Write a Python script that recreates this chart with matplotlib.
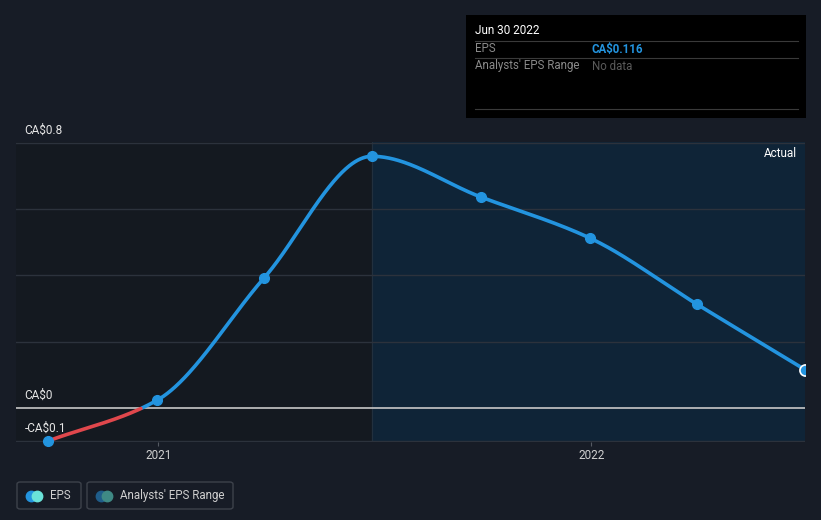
import matplotlib.pyplot as plt
import matplotlib.dates as mdates
from matplotlib.patches import FancyBboxPatch, Rectangle
import numpy as np

plt.rcParams["font.family"] = ["Roboto", "DejaVu Sans"]

# data
dates = ["2020-09-30", "2020-12-31", "2021-03-31", "2021-06-30",
         "2021-09-30", "2021-12-31", "2022-03-31", "2022-06-30"]
eps = [-0.099, 0.024, 0.392, 0.759, 0.636, 0.512, 0.313, 0.116]
y_ticks = [-0.1, 0, 0.8]
y_tick_labels = ["-CA$0.1", "CA$0", "CA$0.8"]
grid_levels = [-0.1, 0.2, 0.4, 0.6, 0.8]
x_ticks = ["2021-01-01", "2022-01-01"]
x_tick_labels = ["2021", "2022"]
forecast_start = "2021-06-30"

bg = "#171c26"
blue = "#2394df"
red = "#e0474c"

W, H = 821, 520
fig = plt.figure(figsize=(W / 100, H / 100), dpi=100)
fig.patch.set_facecolor(bg)


def fx(px):
    return px / W


def fy(py):
    return 1 - py / H


ax = fig.add_axes([fx(16), fy(442), fx(805) - fx(16), fy(142) - fy(442)])
ax.set_facecolor("#141920")

x = mdates.datestr2num(dates)
y = np.array(eps)


# monotone cubic (Fritsch-Carlson) for the smooth line
def pchip(xk, yk, xs):
    h = np.diff(xk)
    d = np.diff(yk) / h
    m = np.zeros_like(yk)
    m[0], m[-1] = d[0], d[-1]
    for i in range(1, len(xk) - 1):
        if d[i - 1] * d[i] > 0:
            w1 = 2 * h[i] + h[i - 1]
            w2 = h[i] + 2 * h[i - 1]
            m[i] = (w1 + w2) / (w1 / d[i - 1] + w2 / d[i])
    out = np.empty_like(xs)
    for j, xv in enumerate(xs):
        i = max(min(np.searchsorted(xk, xv) - 1, len(xk) - 2), 0)
        t = (xv - xk[i]) / h[i]
        h00 = 2 * t**3 - 3 * t**2 + 1
        h10 = t**3 - 2 * t**2 + t
        h01 = -2 * t**3 + 3 * t**2
        h11 = t**3 - t**2
        out[j] = h00 * yk[i] + h10 * h[i] * m[i] + h01 * yk[i + 1] + h11 * h[i] * m[i + 1]
    return out


xs = np.linspace(x[0], x[-1], 800)
ys = pchip(x, y, xs)

x0 = mdates.datestr2num("2020-09-03")
x1 = x[-1]
ax.set_xlim(x0, x1)
ax.set_ylim(-0.102, 0.802)

fs = mdates.datestr2num(forecast_start)
ax.axvspan(fs, x1, color="#0f2437", zorder=0)
ax.axvline(fs, color="#22303e", lw=0.8, zorder=1)

for g in grid_levels:
    ax.axhline(g, color="#2c323c", lw=1, zorder=1)
ax.axhline(0, color="#c8c8c8", lw=1.2, zorder=2)

ax.plot(xs, np.where(ys >= 0, ys, np.nan), color=blue, lw=2.6, zorder=3, solid_capstyle="round")
ax.plot(xs, np.where(ys <= 0, ys, np.nan), color=red, lw=2.6, zorder=3, solid_capstyle="round")
ax.plot(x[:-1], y[:-1], "o", color=blue, ms=7, zorder=4, clip_on=False)
ax.plot(x[-1:], y[-1:], "o", color=blue, ms=8, mec="white", mew=1.2, zorder=4)

for s in ax.spines.values():
    s.set_visible(False)
ax.set_yticks([])
ax.set_xticks(mdates.datestr2num(x_ticks))
ax.set_xticklabels(x_tick_labels, color="#d0d0d0", fontsize=8.5)
ax.tick_params(axis="x", length=3, color="#555a63", pad=2)

for v, lab in zip(y_ticks, y_tick_labels):
    ax.annotate(lab, xy=(0, v), xycoords=("axes fraction", "data"),
                xytext=(6, 4.5), textcoords="offset points",
                color="#e6e6e6", fontsize=8.5, va="bottom", ha="left", annotation_clip=False)

ax.text(0.99, 1 - (154 - 142) / 300, "Actual", transform=ax.transAxes, ha="right", va="center",
        color="#ffffff", fontsize=8.5)

# tooltip box
fig.patches.append(Rectangle((fx(466), fy(118)), fx(806) - fx(466), fy(15) - fy(118),
                             transform=fig.transFigure, facecolor="#000000", edgecolor="none"))
fig.text(fx(475), fy(31), "Jun 30 2022", color="#ffffff", fontsize=8.5, va="center")
for ly in [41, 58, 109]:
    fig.add_artist(plt.Line2D([fx(475), fx(798)], [fy(ly), fy(ly)], color="#3a3a3a", lw=0.8))
fig.text(fx(475), fy(49), "EPS", color="#8a8a8a", fontsize=8.3, va="center")
fig.text(fx(592), fy(49), "CA$0.116", color=blue, fontsize=8.3, va="center", fontweight="bold")
fig.text(fx(475), fy(66), "Analysts' EPS Range", color="#8a8a8a", fontsize=8.3, va="center")
fig.text(fx(592), fy(66), "No data", color="#5a5a5a", fontsize=8.3, va="center")

# legend
for (lx0, lx1, label, c1, c2) in [(17, 81, "EPS", "#2394df", "#6ae3d9"),
                                   (87, 233, "Analysts' EPS Range", "#1f5d8a", "#3f8a85")]:
    fig.patches.append(FancyBboxPatch((fx(lx0), fy(509)), fx(lx1) - fx(lx0), fy(482) - fy(509),
                                      boxstyle="round,pad=0,rounding_size=0.004",
                                      transform=fig.transFigure, facecolor="none",
                                      edgecolor="#3d424b", lw=1))
    cy = 495.5
    fig.add_artist(plt.Line2D([fx(lx0 + 14)], [fy(cy)], marker="o", ms=7.5, color=c1, lw=0))
    fig.add_artist(plt.Line2D([fx(lx0 + 20)], [fy(cy)], marker="o", ms=7.5, color=c2, lw=0))
    fig.text(fx(lx0 + 33), fy(cy), label, color="#cfcfcf", fontsize=8.3, va="center")

fig.savefig("out.png", dpi=100, facecolor=bg)
